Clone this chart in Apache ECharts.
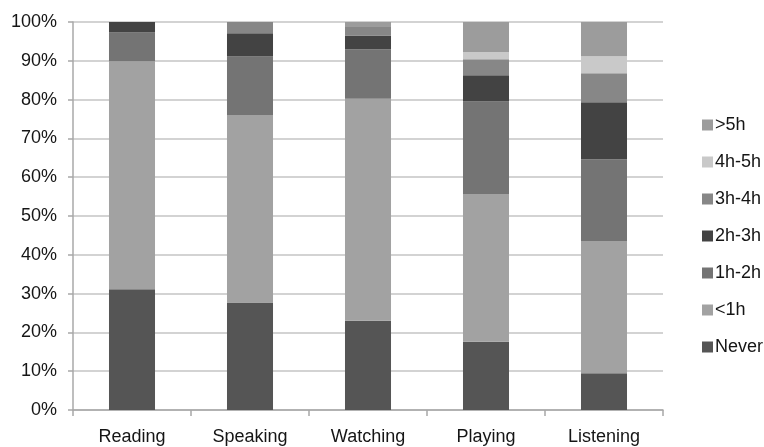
<!DOCTYPE html>
<html>
<head>
<meta charset="utf-8">
<script src="https://cdn.jsdelivr.net/npm/echarts@6/dist/echarts.min.js"></script>
<style>
  html, body { margin: 0; padding: 0; background: #fff; }
  #chart { width: 764px; height: 447px; }
</style>
</head>
<body>
<div id="chart"></div>
<script>
// Activities and the share of respondents (%) in each time band
const categories = ['Reading', 'Speaking', 'Watching', 'Playing', 'Listening'];
const never    = [31.1, 27.7, 23.0, 17.6,  9.5];
const lt1h     = [58.8, 48.3, 57.2, 38.1, 33.9];
const h1to2    = [ 7.4, 15.1, 12.8, 23.8, 21.2];
const h2to3    = [ 2.7,  6.0,  3.5,  6.8, 14.7];
const h3to4    = [ 0.0,  2.9,  2.2,  4.1,  7.5];
const h4to5    = [ 0.0,  0.0,  0.0,  1.9,  4.4];
const gt5h     = [ 0.0,  0.0,  1.3,  7.7,  8.8];
const yTicks   = [0, 10, 20, 30, 40, 50, 60, 70, 80, 90, 100];

const bands = [
  { name: 'Never', data: never, color: '#555555' },
  { name: '<1h',   data: lt1h,  color: '#a2a2a2' },
  { name: '1h-2h', data: h1to2, color: '#747474' },
  { name: '2h-3h', data: h2to3, color: '#434343' },
  { name: '3h-4h', data: h3to4, color: '#878787' },
  { name: '4h-5h', data: h4to5, color: '#c9c9c9' },
  { name: '>5h',   data: gt5h,  color: '#9c9c9c' }
];

const textStyle = { fontFamily: 'Liberation Sans, Arial, sans-serif', color: '#151515' };

const chart = echarts.init(document.getElementById('chart'), null, { renderer: 'canvas' });
chart.setOption({
  animation: false,
  backgroundColor: '#ffffff',
  grid: { left: 73, right: 101, top: 22, bottom: 37, containLabel: false },
  legend: {
    orient: 'vertical',
    left: 697,
    top: 111,
    itemWidth: 11,
    itemHeight: 11,
    itemGap: 19,
    icon: 'rect',
    data: bands.map(b => b.name).reverse(),
    textStyle: Object.assign({ fontSize: 18, padding: [0, 0, 0, -3] }, textStyle)
  },
  xAxis: {
    type: 'category',
    data: categories,
    axisLine: { lineStyle: { color: '#a8a8a8', width: 1.5 } },
    axisTick: { show: true, length: 6, lineStyle: { color: '#a8a8a8', width: 1.5 } },
    axisLabel: Object.assign({ fontSize: 18, margin: 18 }, textStyle)
  },
  yAxis: {
    type: 'value',
    min: yTicks[0],
    max: yTicks[yTicks.length - 1],
    interval: 10,
    axisLine: { show: true, lineStyle: { color: '#a8a8a8', width: 1.5 } },
    axisTick: { show: true, length: 5, lineStyle: { color: '#a8a8a8', width: 1.5 } },
    splitLine: { lineStyle: { color: '#c4c4c4', width: 1.5 } },
    axisLabel: Object.assign({ fontSize: 18, margin: 16, formatter: '{value}%' }, textStyle)
  },
  series: bands.map(b => ({
    name: b.name,
    type: 'bar',
    stack: 'share',
    barWidth: '39%',
    data: b.data,
    itemStyle: { color: b.color }
  }))
});
</script>
</body>
</html>
